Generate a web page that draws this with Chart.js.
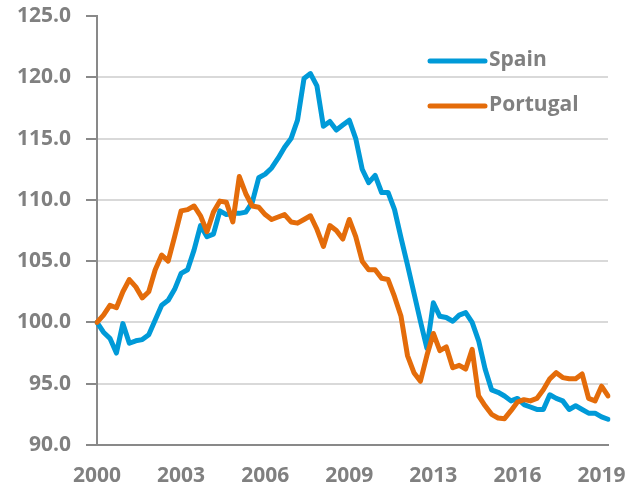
<!DOCTYPE html>
<html><head><meta charset="utf-8">
<script src="https://cdn.jsdelivr.net/npm/chart.js@4"></script>
<style>html,body{margin:0;padding:0;background:#fff;} canvas{display:block;}</style>
</head><body>
<canvas id="c" width="626" height="489"></canvas>
<script>
// Quarterly categories 2000Q1 .. 2019Q4
const years = [2000,2001,2002,2003,2004,2005,2006,2007,2008,2009,2010,2011,2012,2013,2014,2015,2016,2017,2018,2019];
const quarters = ['Q1','Q2','Q3','Q4'];
const categories = [];
years.forEach(y => quarters.forEach(q => categories.push(y + q)));

const spain = [
  100.0, 99.2, 98.7, 97.5, 99.9, 98.3, 98.5, 98.6, 99.0, 100.2,
  101.4, 101.8, 102.7, 104.0, 104.3, 105.9, 107.9, 107.0, 107.2, 109.1,
  108.8, 108.9, 108.9, 109.0, 109.8, 111.8, 112.1, 112.6, 113.4, 114.3,
  115.0, 116.5, 119.9, 120.3, 119.3, 116.0, 116.4, 115.7, 116.1, 116.5,
  115.0, 112.5, 111.4, 112.0, 110.6, 110.6, 109.2, 106.9, 104.7, 102.4,
  100.1, 97.9, 101.6, 100.5, 100.4, 100.1, 100.6, 100.8, 100.0, 98.5,
  96.2, 94.5, 94.3, 94.0, 93.6, 93.8, 93.3, 93.1, 92.9, 92.9,
  94.1, 93.8, 93.6, 92.9, 93.2, 92.9, 92.6, 92.6, 92.3, 92.1
];
const portugal = [
  100.0, 100.6, 101.4, 101.2, 102.5, 103.5, 102.9, 102.0, 102.5, 104.3,
  105.5, 105.0, 107.0, 109.1, 109.2, 109.5, 108.7, 107.4, 109.0, 109.9,
  109.8, 108.2, 111.9, 110.5, 109.5, 109.4, 108.8, 108.4, 108.6, 108.8,
  108.2, 108.1, 108.4, 108.7, 107.6, 106.2, 107.9, 107.5, 106.8, 108.4,
  107.0, 105.0, 104.3, 104.3, 103.6, 103.5, 102.1, 100.5, 97.3, 95.9,
  95.2, 97.3, 99.1, 97.7, 98.0, 96.3, 96.5, 96.2, 97.8, 94.0,
  93.2, 92.5, 92.2, 92.15, 92.8, 93.5, 93.7, 93.6, 93.8, 94.5,
  95.4, 95.9, 95.5, 95.4, 95.4, 95.8, 93.8, 93.6, 94.8, 94.0
];
const xTickLabels = ['2000','2003','2006','2009','2013','2016','2019'];
const xTickEvery = 13;
const yMin = 90, yMax = 125, yStep = 5;

const seriesNames = ['Spain', 'Portugal'];
const seriesColors = ['#009ad8', '#e46c0a'];

const FONT = "'Open Sans', 'DejaVu Sans', sans-serif";
const TEXT = '#808080';
const AXIS = '#898989';
const GRID = '#d9d9d9';

const legendPlugin = {
  id: 'customLegend',
  afterDraw(chart) {
    const ctx = chart.ctx, a = chart.chartArea;
    const x0 = a.right - 178, x1 = x0 + 55;
    const rows = [a.top + 45, a.top + 90];
    ctx.save();
    ctx.font = "bold 21px " + FONT;
    ctx.textBaseline = 'middle';
    ctx.textAlign = 'left';
    chart.data.datasets.slice().sort((p, q) => seriesNames.indexOf(p.label) - seriesNames.indexOf(q.label)).forEach((ds, i) => {
      const y = rows[i];
      ctx.strokeStyle = ds.borderColor;
      ctx.lineWidth = 5;
      ctx.lineCap = 'round';
      ctx.beginPath(); ctx.moveTo(x0, y); ctx.lineTo(x1, y); ctx.stroke();
      ctx.fillStyle = TEXT;
      ctx.fillText(ds.label, x1 + 4, y - 1);
    });
    ctx.restore();
  }
};

new Chart(document.getElementById('c'), {
  type: 'line',
  data: {
    labels: categories,
    datasets: [
      { label: seriesNames[0], data: spain, borderColor: seriesColors[0], order: 1 },
      { label: seriesNames[1], data: portugal, borderColor: seriesColors[1], order: 0 }
    ]
  },
  options: {
    responsive: false,
    animation: false,
    devicePixelRatio: 1,
    layout: { padding: { top: 16, right: 18, left: 0, bottom: 0 } },
    elements: {
      line: { borderWidth: 5, tension: 0, borderJoinStyle: 'round', borderCapStyle: 'round', fill: false },
      point: { radius: 0, hoverRadius: 0 }
    },
    plugins: { legend: { display: false }, tooltip: { enabled: false } },
    scales: {
      x: {
        type: 'category',
        offset: false,
        grid: { drawOnChartArea: false, drawTicks: false },
        border: { display: true, color: AXIS, width: 2 },
        ticks: {
          autoSkip: false, maxRotation: 0, minRotation: 0, padding: 18,
          color: TEXT, font: { family: FONT, size: 21, weight: 'bold' },
          callback: (v, i) => (i % xTickEvery === 0) ? xTickLabels[i / xTickEvery] : null
        },
        afterFit: s => { s.height = 44; s.paddingLeft = 0; s.paddingRight = 0; }
      },
      y: {
        min: yMin, max: yMax,
        grid: {
          color: c => (c.tick && c.tick.value === yMax) ? 'rgba(0,0,0,0)' : GRID,
          lineWidth: 2, tickColor: AXIS, tickWidth: 2, tickLength: 11, drawTicks: true
        },
        border: { display: true, color: AXIS, width: 2 },
        ticks: {
          stepSize: yStep, padding: 15, color: TEXT,
          font: { family: FONT, size: 21, weight: 'bold' },
          callback: v => Number(v).toFixed(1)
        },
        afterFit: s => { s.width = 97; s.paddingTop = 0; s.paddingBottom = 0; }
      }
    }
  },
  plugins: [legendPlugin]
});
</script>
</body></html>
